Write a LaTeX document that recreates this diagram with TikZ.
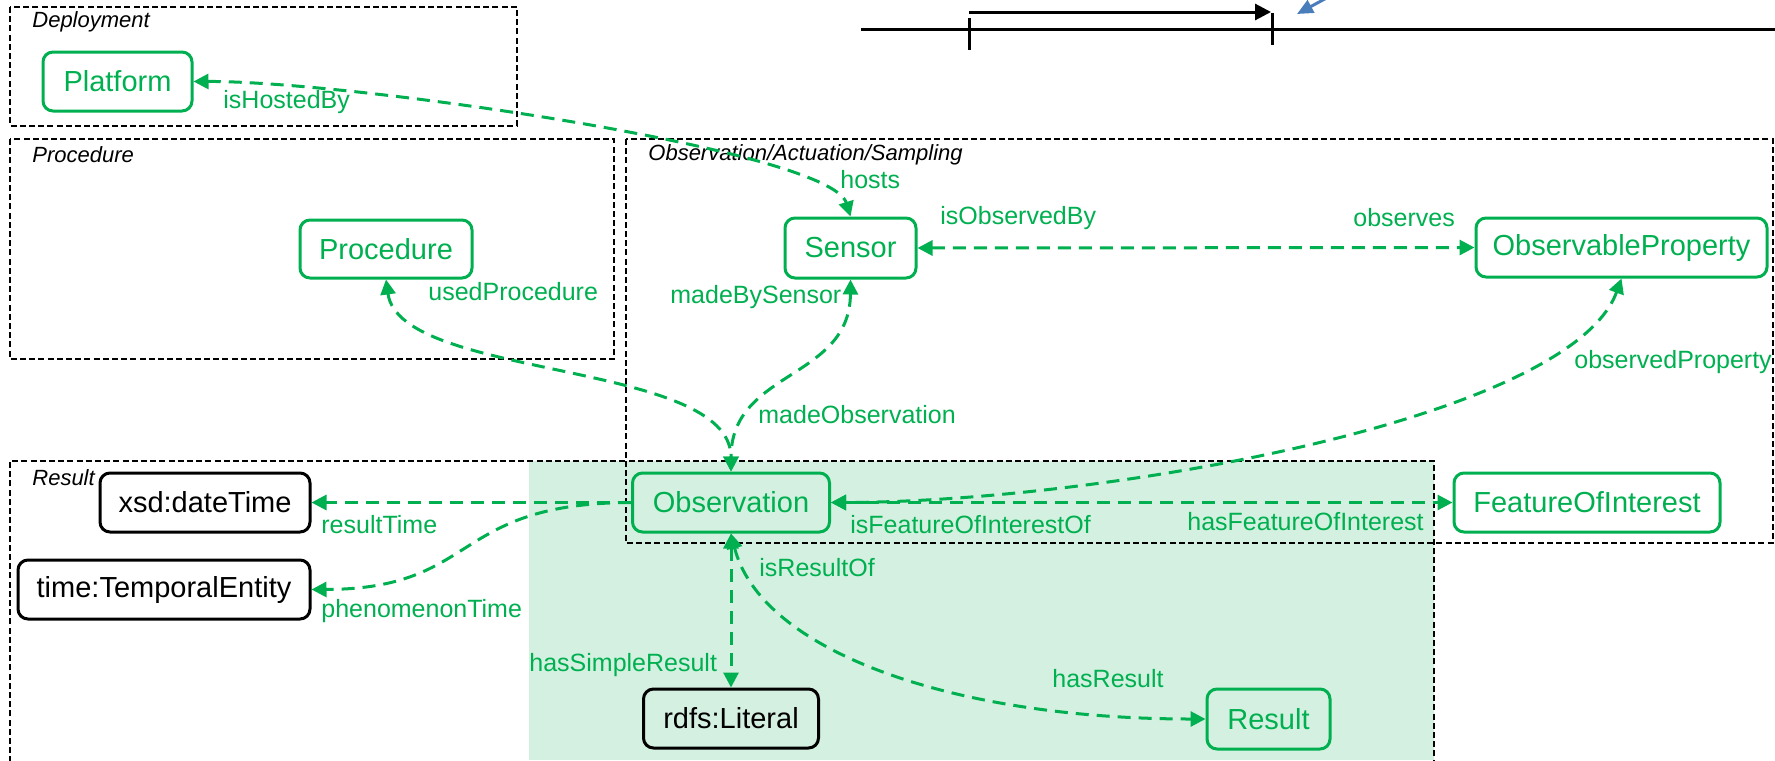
\documentclass[tikz,border=0pt]{standalone}
\usepackage{fontspec}
\setmainfont{Liberation Sans}
\usetikzlibrary{arrows.meta}
\definecolor{ogreen}{RGB}{0,176,80}
\definecolor{lgreen}{RGB}{212,240,224}
\definecolor{sblue}{RGB}{74,126,187}
\begin{document}
\begin{tikzpicture}[x=0.5pt,y=-0.5pt,
 cls/.style={draw=ogreen, text=ogreen, line width=1.5pt, rounded corners=5pt, inner sep=0pt, font=\fontsize{14.5}{16}\selectfont},
 dtype/.style={cls, draw=black, text=black},
 lbl/.style={text=ogreen, anchor=west, inner sep=0pt, font=\fontsize{12.5}{14}\selectfont},
 grp/.style={draw=black, line width=1.3pt, dash pattern=on 3pt off 1.6pt},
 grplbl/.style={anchor=west, inner sep=0pt, font=\fontsize{11}{13}\selectfont\itshape},
 rel/.style={draw=ogreen, line width=1.5pt, dash pattern=on 6.5pt off 4pt, {Triangle[length=7.5pt,width=7.5pt]}-{Triangle[length=7.5pt,width=7.5pt]}},
 relone/.style={draw=ogreen, line width=1.5pt, dash pattern=on 6.5pt off 4pt, -{Triangle[length=7.5pt,width=7.5pt]}},
 tline/.style={draw=black, line width=1.5pt},
]
\useasboundingbox (0,0) rectangle (1775,760);
\clip (0,0) rectangle (1775,760);

% shaded result area
\fill[lgreen] (529,461) rectangle (1434,760);

% group boxes
\draw[grp] (10,7) rectangle (517,126);
\draw[grp] (10,139) rectangle (614,359);
\draw[grp] (626,139) rectangle (1773,543);
\draw[grp] (10,790) -- (10,461) -- (1434,461) -- (1434,790);

\node[grplbl] (gdep) at (32,22) {Deployment};
\node[grplbl] (gproc) at (32,155) {Procedure};
\node[grplbl] (gobs) at (648,155) {Observation/Actuation/Sampling};
\node[grplbl] (gres) at (32,478) {Result};

% timeline
\coordinate (tla) at (861,29);
\coordinate (tlb) at (1775,29);
\coordinate (tka) at (969,18);
\coordinate (tkb) at (969,50);
\coordinate (tkc) at (1272,13);
\coordinate (tkd) at (1272,45);
\coordinate (tra) at (969,12);
\coordinate (trb) at (1271,12);
\coordinate (bla) at (1345,-12);
\coordinate (blb) at (1297,14);
\draw[tline] (tla) -- (tlb);
\draw[tline] (tka) -- (tkb);
\draw[tline] (tkc) -- (tkd);
\draw[tline, -{Triangle[length=8pt,width=8pt]}] (tra) -- (trb);
\draw[draw=sblue, line width=1.5pt, -{Triangle[length=8pt,width=7pt]}] (bla) -- (blb);

% nodes
\node[cls, minimum width=74.5pt, minimum height=29.5pt] (platform) at (117.5,81.5) {Platform};
\node[cls, minimum width=86pt, minimum height=29pt] (procedure) at (386,249) {Procedure};
\node[cls, minimum width=65.5pt, minimum height=30pt] (sensor) at (850.5,248) {Sensor};
\node[cls, minimum width=145.5pt, minimum height=29.5pt] (obsprop) at (1621.5,247.5) {ObservableProperty};
\node[cls, minimum width=98.5pt, minimum height=29.5pt] (observation) at (731,502.5) {Observation};
\node[cls, minimum width=133pt, minimum height=29.5pt] (foi) at (1587,502.5) {FeatureOfInterest};
\node[dtype, minimum width=105pt, minimum height=29.5pt] (xsd) at (205,502.5) {xsd:dateTime};
\node[dtype, minimum width=146pt, minimum height=29.5pt] (temporal) at (164,589.5) {time:TemporalEntity};
\node[dtype, minimum width=87.5pt, minimum height=29.5pt] (literal) at (731,718.5) {rdfs:Literal};
\node[cls, minimum width=61.5pt, minimum height=30pt] (result) at (1268.5,719) {Result};

% connectors
\draw[rel] (platform.east) .. controls (350,81) and (830,150) .. (sensor.north);
\draw[rel] (procedure.south) .. controls (400,380) and (731,360) .. (observation.north);
\draw[rel] (sensor.south) .. controls (850,380) and (731,370) .. (observation.north);
\draw[rel] (sensor.east) -- (obsprop.west);
\draw[rel] (obsprop.south) .. controls (1570,420) and (1100,502) .. (observation.east);
\draw[rel] (observation.east) -- (foi.west);
\draw[relone] (observation.west) -- (xsd.east);
\draw[relone] (observation.west) .. controls (450,503) and (480,589) .. (temporal.east);
\draw[rel] (observation.south) -- (literal.north);
\draw[rel] (observation.south) .. controls (760,650) and (950,719) .. (result.west);

% edge labels
\node[lbl] (lhostedby) at (223,102) {isHostedBy};
\node[lbl] (lhosts) at (840,180) {hosts};
\node[lbl] (lusedproc) at (428,292) {usedProcedure};
\node[lbl] (lisobs) at (940,218) {isObservedBy};
\node[lbl] (lobserves) at (1353,218) {observes};
\node[lbl] (lobsprop) at (1574,362) {observedProperty};
\node[lbl] (lmadeby) at (670,297) {madeBySensor};
\node[lbl] (lmadeobs) at (758,415) {madeObservation};
\node[lbl] (lrestime) at (321,525) {resultTime};
\node[lbl] (lphentime) at (321,611) {phenomenonTime};
\node[lbl] (lisfoi) at (850,525) {isFeatureOfInterestOf};
\node[lbl] (lhasfoi) at (1187,522) {hasFeatureOfInterest};
\node[lbl] (lisres) at (759,568) {isResultOf};
\node[lbl] (lsimple) at (529,665) {hasSimpleResult};
\node[lbl] (lhasres) at (1052,679) {hasResult};
\end{tikzpicture}
\end{document}
